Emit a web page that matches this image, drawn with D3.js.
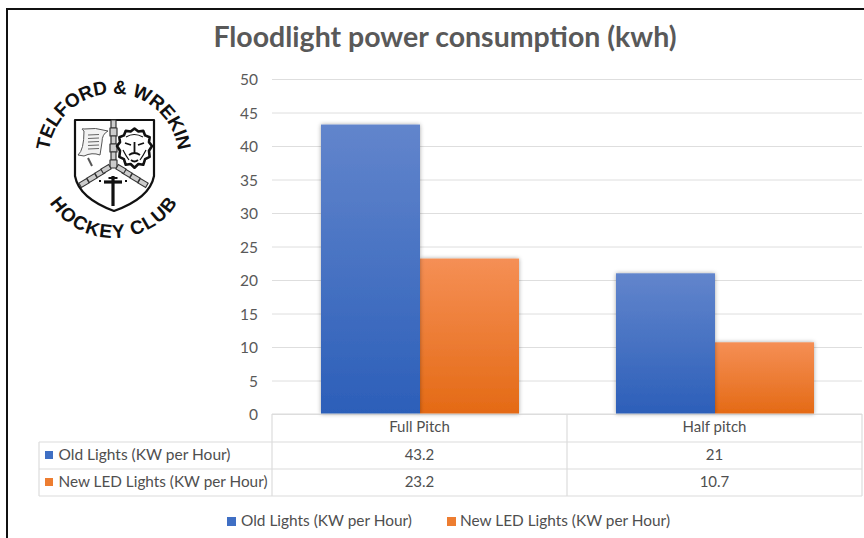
<!DOCTYPE html>
<html><head><meta charset="utf-8">
<script src="https://cdnjs.cloudflare.com/ajax/libs/d3/7.8.5/d3.min.js"></script>
<style>html,body{margin:0;padding:0;background:#fff;overflow:hidden}svg{display:block}text{font-family:Lato,"Open Sans",sans-serif}</style>
</head><body><svg id="c" width="864" height="538"></svg>
<script>
const categories = ["Full Pitch", "Half pitch"];
const seriesNames = ["Old Lights (KW per Hour)", "New LED Lights (KW per Hour)"];
const oldLights = [43.2, 21];
const newLights = [23.2, 10.7];
const yTicks = [0, 5, 10, 15, 20, 25, 30, 35, 40, 45, 50];
const titleText = "Floodlight power consumption (kwh)";
const seriesValues = [oldLights, newLights];

const svg = d3.select("#c");
const defs = svg.append("defs");
const grads = [["#6285cc", "#2c5fb9"], ["#f58f55", "#e46a15"]];
grads.forEach((g, i) => {
  const lg = defs.append("linearGradient").attr("id", "g" + i).attr("x1", 0).attr("x2", 0).attr("y1", 0).attr("y2", 1);
  lg.append("stop").attr("offset", 0).attr("stop-color", g[0]);
  lg.append("stop").attr("offset", 1).attr("stop-color", g[1]);
});
const f = defs.append("filter").attr("id", "sh").attr("x", "-15%").attr("y", "-10%").attr("width", "130%").attr("height", "120%");
f.append("feDropShadow").attr("dx", 0).attr("dy", 0).attr("stdDeviation", 2.2).attr("flood-color", "#000").attr("flood-opacity", 0.35);

// frame
svg.append("path").attr("d", "M7 538V9H864").attr("fill", "none").attr("stroke", "#111").attr("stroke-width", 2);

svg.append("text").attr("x", 445).attr("y", 47).attr("text-anchor", "middle")
  .attr("font-size", 28.5).attr("font-weight", 700).attr("fill", "#595959").text(titleText);

const y = d3.scaleLinear().domain([0, 50]).range([414, 79]);
const x0 = d3.scaleBand().domain(categories).range([272, 862]);
const x1 = d3.scaleBand().domain([0, 1]).range([49, 247]);

// gridlines + y axis labels
const yAxis = d3.axisLeft(y).tickValues(yTicks).tickSize(-590).tickPadding(14);
const ga = svg.append("g").attr("transform", "translate(272,0)").call(yAxis);
ga.select(".domain").remove();
ga.selectAll("line").attr("stroke", "#dedede").attr("stroke-width", 1);
ga.selectAll("text").attr("font-size", 15.5).attr("fill", "#595959").attr("dy", "0.36em").style("font-family", "Lato,sans-serif");

// bars
const groups = svg.append("g").selectAll("g").data(categories).join("g")
  .attr("transform", d => `translate(${x0(d)},0)`);
groups.each(function (c, ci) {
  const sel = d3.select(this);
  [1, 0].forEach(si => {
    const v = seriesValues[si][ci];
    sel.append("rect").attr("x", x1(si)).attr("width", x1.bandwidth())
      .attr("y", y(v)).attr("height", y(0) - y(v))
      .attr("fill", `url(#g${si})`).attr("filter", "url(#sh)");
  });
});

// data table
const tableLeft = 39, rowY = [414, 442, 469, 496];
const tc = "#dcdcdc";
const tl = svg.append("g").attr("stroke", tc).attr("stroke-width", 1.2);
tl.append("line").attr("x1", 272).attr("x2", 862).attr("y1", rowY[0]).attr("y2", rowY[0]);
[1, 2, 3].forEach(i => tl.append("line").attr("x1", tableLeft).attr("x2", 862).attr("y1", rowY[i]).attr("y2", rowY[i]));
tl.append("line").attr("x1", tableLeft).attr("x2", tableLeft).attr("y1", rowY[1]).attr("y2", rowY[3]);
[272, x0.range()[0] + x0.bandwidth(), 862].forEach(v =>
  tl.append("line").attr("x1", v).attr("x2", v).attr("y1", rowY[0]).attr("y2", rowY[3]));

const tf = 15, tcol = "#4f4f4f";
categories.forEach((c, ci) => {
  const cx = x0(c) + x0.bandwidth() / 2;
  svg.append("text").attr("x", cx).attr("y", 432).attr("text-anchor", "middle")
    .attr("font-size", tf).attr("fill", tcol).text(c);
  seriesValues.forEach((s, si) => {
    svg.append("text").attr("x", cx).attr("y", rowY[si + 1] + 18).attr("text-anchor", "middle")
      .attr("font-size", tf).attr("fill", tcol).text(s[ci]);
  });
});
const solid = ["#3f6fc4", "#ed7d31"];
seriesNames.forEach((n, si) => {
  svg.append("rect").attr("x", 45).attr("y", rowY[si + 1] + 9).attr("width", 8).attr("height", 8).attr("fill", solid[si]);
  svg.append("text").attr("x", 58.5).attr("y", rowY[si + 1] + 18).attr("font-size", tf).attr("fill", tcol)
    .attr("textLength", si ? 209 : 172).attr("lengthAdjust", "spacingAndGlyphs").text(n);
});

// legend
[[227, 241, 171], [447, 460, 210]].forEach((p, si) => {
  svg.append("rect").attr("x", p[0]).attr("y", 517).attr("width", 9).attr("height", 9).attr("fill", solid[si]);
  svg.append("text").attr("x", p[1]).attr("y", 526).attr("font-size", tf).attr("fill", tcol)
    .attr("textLength", p[2]).attr("lengthAdjust", "spacingAndGlyphs").text(seriesNames[si]);
});

// club crest (illustration)
const logo = svg.append("g");
const cx = 113.5, cy = 156;
defs.append("path").attr("id", "arcTop").attr("d", `M${cx - 64} ${cy + 14}A65 65 0 1 1 ${cx + 64} ${cy + 14}`);
defs.append("path").attr("id", "arcBot").attr("d", `M${cx - 76} ${cy + 6}A76 76 0 0 0 ${cx + 76} ${cy + 6}`);
[["arcTop", "TELFORD & WREKIN", 188, 19], ["arcBot", "HOCKEY CLUB", 152, 19]].forEach(d => {
  logo.append("text").attr("font-size", d[3]).attr("font-weight", 700).attr("fill", "#111")
    .style("font-family", "'Liberation Sans',sans-serif")
    .append("textPath").attr("href", "#" + d[0]).attr("startOffset", "50%").attr("text-anchor", "middle")
    .attr("textLength", d[2]).text(d[1]);
});
const ls = (d, w = 1.5, fill = "none", st = "#111") => logo.append("path").attr("d", d).attr("fill", fill).attr("stroke", st).attr("stroke-width", w).attr("stroke-linejoin", "round");
// shield
ls("M75 120H154V176Q150 198 114 211Q79 198 75 176Z", 2.2, "#fff");
// chain vertical
[124, 132, 140, 148, 156, 164].forEach((v, i) => ls(`M${i % 2 ? 110 : 111} ${v - 4}h${i % 2 ? 7 : 5}v8h${i % 2 ? -7 : -5}z`, 1.2, "#ccc", "#333"));
// chain diagonals
[[84, 183], [92, 178], [100, 173], [106, 169], [143, 183], [135, 178], [127, 173], [121, 169]].forEach((c, i) =>
  logo.append("rect").attr("x", -4.5).attr("y", -2.5).attr("width", 9).attr("height", 5)
    .attr("transform", `translate(${c[0]},${c[1]}) rotate(${i < 4 ? -30 : 30})`)
    .attr("fill", "#ccc").attr("stroke", "#333").attr("stroke-width", 1.1));
// cross
ls("M113 176V206", 3.2); ls("M104 182H122", 3.2); ls("M108.5 178H117.5", 2); ls("M100 182v-2M126 182v-2", 2);
// scroll
ls("M84 131Q80 128 84 129Q95 127 108 131Q102 134 102 142L100 155Q92 152 84 156L78 155Q84 150 84 131Z", 1, "#f2f2f2", "#555");
[135, 138.5, 142, 145.5, 149].forEach(v => ls(`M88 ${v}L99 ${v - 0.5}`, 1, "none", "#666"));
ls("M88 158L92 166", 2, "none", "#555");
// lion's face with spiky mane
const mane = d3.range(0, 24).map(i => {
  const a = i / 24 * 2 * Math.PI, r = i % 2 ? 15 : 17.5;
  const sy = i > 5 && i < 18 ? 1.24 : 1;
  return [134.5 + Math.sin(a) * r, 146 - Math.cos(a) * r * sy];
});
ls(d3.line()(mane) + "Z", 2.6, "#fff", "#111");
ls("M125 143L131 145M144 143L138 145M134.5 142V154M129 155Q134.5 151 140 155M131 160Q134.5 163 138 160", 1.8);
ls("M126 137Q134 132 143 137M123 150Q126 156 129 160M146 150Q143 156 140 160", 1.2);
</script></body></html>
